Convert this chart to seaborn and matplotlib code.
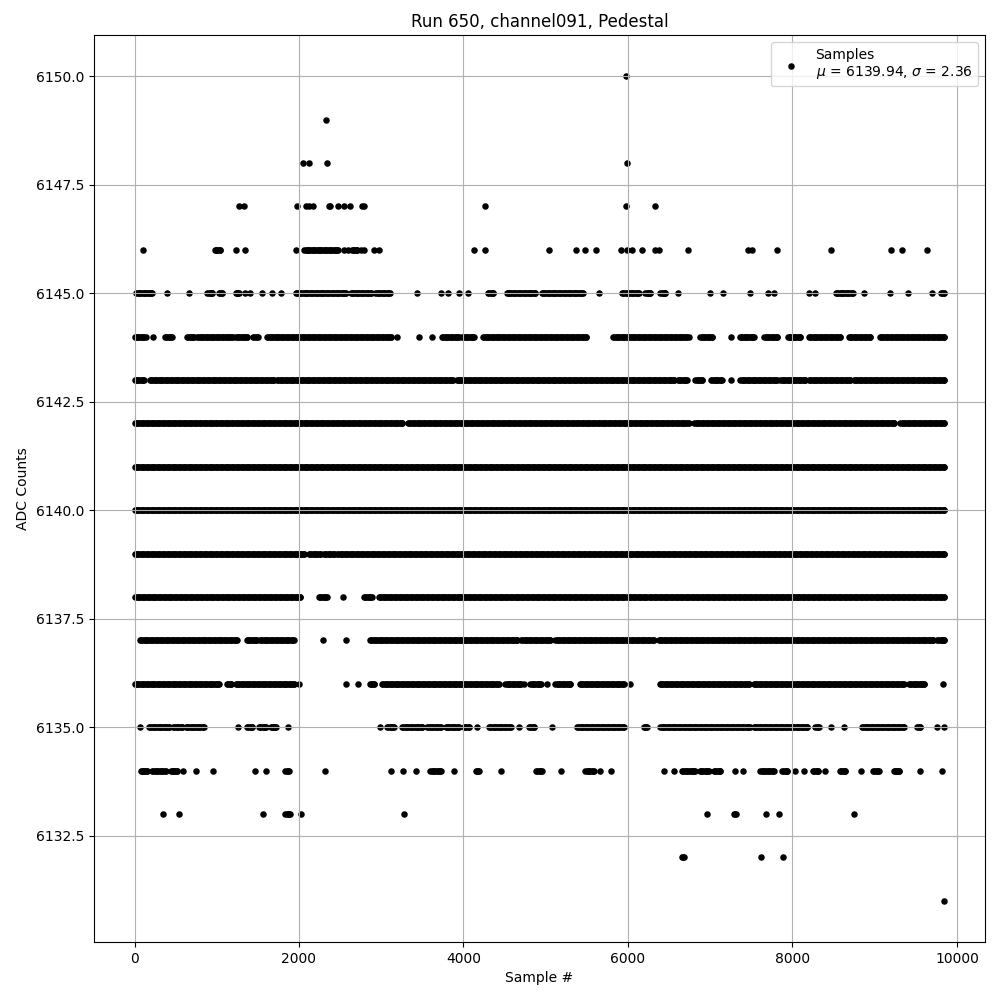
import numpy as np
import pandas as pd
import matplotlib
matplotlib.use("Agg")
import matplotlib.pyplot as plt
import seaborn as sns

# sample numbers hit at each ADC level
# plain ints are single samples, tuples are runs of dense hits
lvl_6150 = [5980]
lvl_6149 = [2333]
lvl_6148 = [2053, 2126, 2345, 5992]
lvl_6147 = [1272, 1333, 1979, 2085, 2126, 2175, 2362, 2381, 2479, 2552, 2625,
            2768, 2788, 4260, 5980, 6333]
lvl_6146 = [101, (976, 1037), 1232, 1345, 1967, (2065, 2250), (2270, 2472), 2552,
            2600, (2640, 2700), 2760, 2796, 2918, 2979, 4126, 4260, 5035, 5370,
            5480, 5614, 5918, 5988, 6049, 6175, 6333, 6381, 6732, 7459, 7512,
            7809, 8467, 9199, 9333, 9638]
lvl_6145 = [(24, 216), 394, 662, (886, 947), (1028, 1069), (1232, 1272), 1345,
            1406, 1553, 1675, 1785, (1965, 2570), (2630, 2870), (2930, 3105),
            3431, 3732, 3813, 3943, 4053, (4300, 4362), (4524, 4870),
            (4951, 5459), 5642, (5927, 6130), (6211, 6272), (6394, 6455), 6610,
            6992, 7159, 7480, 7699, 7772, 8203, 8272, (8528, 8731), 8866, 9187,
            9403, 9699, (9809, 9849)]
lvl_6144 = [(0, 134), 223, (369, 458), (641, 722), (762, 1188), (1228, 1370),
            (1443, 1500), (1613, 3113), 3186, 3457, 3612, (3741, 3944),
            (3985, 4126), (4240, 5495), (5820, 6719), 6748, (6881, 7023), 7258,
            (7360, 7530), (7660, 7814), (7943, 8097), (8199, 8584), (8685, 8948),
            (9062, 9849)]
lvl_6143 = [(0, 114), (187, 1695), (1735, 3871), (3916, 6557), (6606, 6719),
            (6820, 6902), (7011, 7145), 7250, (7368, 7814), (7854, 8158),
            (8199, 8705), (8746, 9849)]
lvl_6142 = [(0, 3255), (3324, 6740), (6809, 9240), (9313, 9849)]
lvl_6141 = [(0, 9849)]
lvl_6140 = [(0, 9849)]
lvl_6139 = [(0, 2059), (2120, 2262), (2303, 2424), (2465, 9849)]
lvl_6138 = [(12, 2011), (2242, 2343), 2534, (2789, 2890), (2971, 5949),
            (5982, 6225), (6253, 9840)]
lvl_6137 = [(65, 1249), (1362, 1492), (1524, 1938), 2290, 2574, (2862, 4653),
            (4702, 5058), (5118, 6314), (6375, 9710), (9759, 9849)]
lvl_6136 = [(0, 1026), (1127, 1176), (1230, 1938), 2000, 2574, 2716,
            (2862, 2910), (3012, 4430), (4511, 4694), 4742, (4815, 4937), 5020,
            (5118, 5301), (5414, 5949), 6030, (6387, 7469), (7530, 9354),
            (9415, 9597), 9832]
lvl_6135 = [65, (175, 418), (471, 580), (621, 843), 1257, (1370, 1431),
            (1512, 1593), (1654, 1715), 1869, 2983, (3072, 3154), (3255, 3498),
            (3559, 3721), (3782, 3944), (4005, 4066), 4167, (4309, 4572), 4674,
            (4795, 4856), 5075, (5382, 5949), (6192, 6233), (6395, 7489),
            (7530, 8178), (8280, 8320), 8470, 8624, (8847, 9354), (9516, 9556),
            9759, 9840]
lvl_6134 = [(73, 154), (215, 377), (438, 519), 588, 746, 953, 1460, 1597,
            (1836, 1877), 2315, 3117, 3267, 3421, (3599, 3721), 3883,
            (4147, 4187), 4455, (4884, 4957), 5183, (5483, 5584), 5657, 5791,
            6436, 6561, (6659, 6821), (6873, 6983), (7044, 7125), 7299, 7396,
            (7611, 7773), (7874, 7935), 8037, 8138, (8251, 8312), 8393,
            (8576, 8645), 8835, (8981, 9050), (9232, 9293), 9556, 9820]
lvl_6133 = [345, 540, 1561, (1836, 1889), 2023, 3275, 6958, (7287, 7315), 7676,
            7834, 8746]
lvl_6132 = [(6659, 6679), 7615, 7883]
lvl_6131 = [9849]

levels = [6150, 6149, 6148, 6147, 6146, 6145, 6144, 6143, 6142, 6141, 6140,
          6139, 6138, 6137, 6136, 6135, 6134, 6133, 6132, 6131]
hits = [lvl_6150, lvl_6149, lvl_6148, lvl_6147, lvl_6146, lvl_6145, lvl_6144,
        lvl_6143, lvl_6142, lvl_6141, lvl_6140, lvl_6139, lvl_6138, lvl_6137,
        lvl_6136, lvl_6135, lvl_6134, lvl_6133, lvl_6132, lvl_6131]

mu = 6139.94
sigma = 2.36


def expand(items, step=15):
    xs = []
    for it in items:
        if isinstance(it, tuple):
            a, b = it
            xs.extend(range(a, b + 1, step))
            xs.append(b)
        else:
            xs.append(it)
    return xs


rows = []
for lvl, items in zip(levels, hits):
    for x in expand(items):
        rows.append((x, lvl))
df = pd.DataFrame(rows, columns=["sample", "adc"])

fig, ax = plt.subplots(figsize=(10, 10), dpi=100)
sns.scatterplot(data=df, x="sample", y="adc", color="black", s=22,
                linewidth=0, ax=ax,
                label="Samples\n$\\mu$ = {:.2f}, $\\sigma$ = {:.2f}".format(mu, sigma))

ax.set_title("Run 650, channel091, Pedestal")
ax.set_xlabel("Sample #")
ax.set_ylabel("ADC Counts")
ax.grid(True)
ax.legend(loc="upper right")

fig.subplots_adjust(left=0.094, right=0.985, top=0.965, bottom=0.058)
plt.savefig("out.png")
